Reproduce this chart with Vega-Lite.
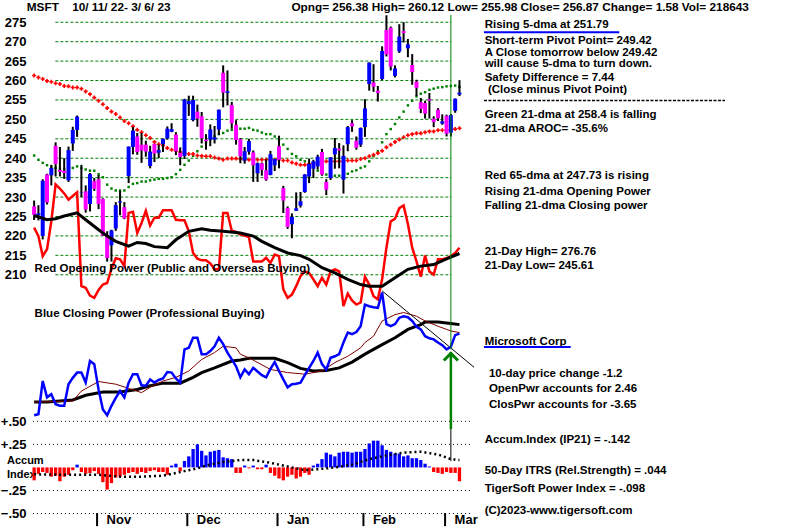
{
"$schema": "https://vega.github.io/schema/vega-lite/v6.json",
"width": 800, "height": 528,
"autosize": {"type": "fit", "contains": "padding"},
"padding": 0,
"background": "white",
"config": {"view": {"stroke": null}},
"resolve": {"scale": {"y": "independent"}},
"datasets": {
"px": [
{"d":0,"o":227.6,"h":229.1,"l":224.1,"c":225.4,"ma21":240.7,"ma65":261.3},
{"d":1,"o":225.4,"h":227.9,"l":224.0,"c":225.8,"ma21":239.6,"ma65":260.8},
{"d":2,"o":220.0,"h":234.6,"l":219.1,"c":234.2,"ma21":238.8,"ma65":260.4},
{"d":3,"o":235.8,"h":236.0,"l":228.1,"c":228.6,"ma21":238.2,"ma65":259.9},
{"d":4,"o":235.6,"h":238.3,"l":233.0,"c":237.5,"ma21":237.8,"ma65":259.7},
{"d":5,"o":243.2,"h":244.1,"l":235.3,"c":238.5,"ma21":237.5,"ma65":259.3},
{"d":6,"o":237.0,"h":242.9,"l":235.3,"c":236.5,"ma21":237.3,"ma65":259.1},
{"d":7,"o":236.8,"h":240.0,"l":234.7,"c":236.2,"ma21":237.2,"ma65":258.6},
{"d":8,"o":234.3,"h":243.0,"l":233.9,"c":242.1,"ma21":237.3,"ma65":258.5},
{"d":9,"o":243.8,"h":248.1,"l":241.9,"c":247.3,"ma21":237.5,"ma65":258.2},
{"d":10,"o":247.3,"h":251.0,"l":245.5,"c":250.7,"ma21":237.9,"ma65":258.2},
{"d":11,"o":231.2,"h":238.3,"l":230.0,"c":231.3,"ma21":237.5,"ma65":257.9},
{"d":12,"o":231.5,"h":233.0,"l":226.0,"c":226.8,"ma21":237.1,"ma65":257.2},
{"d":13,"o":228.2,"h":236.2,"l":226.3,"c":235.9,"ma21":236.8,"ma65":256.5},
{"d":14,"o":234.1,"h":234.9,"l":231.6,"c":232.1,"ma21":236.8,"ma65":255.6},
{"d":15,"o":234.6,"h":235.7,"l":226.9,"c":228.2,"ma21":235.9,"ma65":254.8},
{"d":16,"o":229.5,"h":229.7,"l":220.0,"c":220.1,"ma21":235.1,"ma65":253.9},
{"d":17,"o":220.1,"h":221.2,"l":213.4,"c":214.3,"ma21":233.2,"ma65":252.9},
{"d":18,"o":217.6,"h":221.6,"l":213.4,"c":221.4,"ma21":232.2,"ma65":252.0},
{"d":19,"o":221.9,"h":228.7,"l":221.3,"c":227.9,"ma21":231.7,"ma65":251.4},
{"d":20,"o":228.6,"h":231.6,"l":225.3,"c":228.9,"ma21":231.7,"ma65":250.5},
{"d":21,"o":227.4,"h":228.7,"l":224.3,"c":224.5,"ma21":231.7,"ma65":249.6},
{"d":22,"o":235.4,"h":243.0,"l":233.6,"c":243.0,"ma21":232.6,"ma65":249.0},
{"d":23,"o":242.9,"h":248.0,"l":241.0,"c":247.1,"ma21":233.4,"ma65":248.2},
{"d":24,"o":245.6,"h":246.5,"l":240.9,"c":241.6,"ma21":233.6,"ma65":247.3},
{"d":25,"o":243.5,"h":246.5,"l":238.8,"c":242.0,"ma21":234.0,"ma65":246.7},
{"d":26,"o":243.5,"h":244.5,"l":240.4,"c":241.7,"ma21":234.0,"ma65":245.9},
{"d":27,"o":238.0,"h":243.2,"l":237.4,"c":241.7,"ma21":234.3,"ma65":245.2},
{"d":28,"o":243.7,"h":243.7,"l":239.0,"c":241.2,"ma21":234.5,"ma65":244.2},
{"d":29,"o":241.4,"h":243.5,"l":240.0,"c":242.1,"ma21":234.7,"ma65":243.6},
{"d":30,"o":243.6,"h":245.1,"l":241.6,"c":245.0,"ma21":234.7,"ma65":243.3},
{"d":31,"o":245.1,"h":248.2,"l":244.8,"c":247.6,"ma21":234.9,"ma65":242.6},
{"d":32,"o":246.8,"h":249.0,"l":246.7,"c":247.5,"ma21":235.1,"ma65":242.2},
{"d":33,"o":246.1,"h":246.7,"l":240.8,"c":241.8,"ma21":235.9,"ma65":241.9},
{"d":34,"o":241.4,"h":242.8,"l":238.2,"c":240.3,"ma21":237.0,"ma65":241.6},
{"d":35,"o":240.6,"h":255.3,"l":239.8,"c":255.1,"ma21":238.3,"ma65":241.3},
{"d":36,"o":253.9,"h":256.1,"l":250.9,"c":254.7,"ma21":239.4,"ma65":241.1},
{"d":37,"o":249.8,"h":256.1,"l":249.5,"c":255.0,"ma21":240.6,"ma65":241.1},
{"d":38,"o":252.0,"h":253.8,"l":248.1,"c":250.2,"ma21":241.8,"ma65":240.7},
{"d":39,"o":250.8,"h":251.9,"l":243.8,"c":245.1,"ma21":243.0,"ma65":240.6},
{"d":40,"o":244.8,"h":246.2,"l":242.2,"c":244.4,"ma21":244.0,"ma65":240.5},
{"d":41,"o":244.8,"h":248.7,"l":243.1,"c":247.4,"ma21":244.9,"ma65":240.5},
{"d":42,"o":244.8,"h":248.3,"l":243.8,"c":245.4,"ma21":245.6,"ma65":240.2},
{"d":43,"o":247.4,"h":252.5,"l":246.0,"c":252.5,"ma21":246.2,"ma65":239.9},
{"d":44,"o":262.0,"h":263.9,"l":253.1,"c":256.9,"ma21":246.5,"ma65":239.6},
{"d":45,"o":256.8,"h":262.6,"l":253.6,"c":257.2,"ma21":247.1,"ma65":239.9},
{"d":46,"o":253.7,"h":254.5,"l":247.6,"c":249.0,"ma21":247.3,"ma65":239.9},
{"d":47,"o":248.6,"h":249.8,"l":243.5,"c":244.7,"ma21":247.5,"ma65":239.9},
{"d":48,"o":244.9,"h":245.2,"l":238.7,"c":240.5,"ma21":247.6,"ma65":239.8},
{"d":49,"o":239.4,"h":242.9,"l":238.6,"c":241.8,"ma21":247.6,"ma65":239.6},
{"d":50,"o":241.7,"h":245.0,"l":240.9,"c":244.4,"ma21":247.8,"ma65":239.6},
{"d":51,"o":241.5,"h":242.0,"l":233.9,"c":238.2,"ma21":247.3,"ma65":239.6},
{"d":52,"o":236.1,"h":238.9,"l":233.9,"c":238.7,"ma21":247.1,"ma65":239.6},
{"d":53,"o":238.7,"h":238.9,"l":235.5,"c":237.0,"ma21":246.6,"ma65":239.6},
{"d":54,"o":236.9,"h":239.7,"l":234.2,"c":234.5,"ma21":246.2,"ma65":239.6},
{"d":55,"o":235.7,"h":241.9,"l":235.6,"c":241.0,"ma21":246.2,"ma65":239.6},
{"d":56,"o":238.2,"h":239.9,"l":236.7,"c":239.8,"ma21":245.6,"ma65":239.6},
{"d":57,"o":243.1,"h":245.8,"l":237.4,"c":239.6,"ma21":244.8,"ma65":239.6},
{"d":58,"o":232.3,"h":232.9,"l":225.9,"c":229.1,"ma21":243.5,"ma65":239.4},
{"d":59,"o":227.2,"h":227.6,"l":221.8,"c":222.3,"ma21":242.4,"ma65":239.4},
{"d":60,"o":223.0,"h":225.8,"l":219.4,"c":224.9,"ma21":241.1,"ma65":238.9},
{"d":61,"o":226.5,"h":231.2,"l":226.4,"c":227.1,"ma21":240.5,"ma65":238.6},
{"d":62,"o":227.8,"h":231.3,"l":227.3,"c":228.9,"ma21":239.6,"ma65":238.3},
{"d":63,"o":231.3,"h":235.9,"l":231.1,"c":235.8,"ma21":239.2,"ma65":238.3},
{"d":64,"o":235.3,"h":239.9,"l":233.6,"c":238.5,"ma21":238.5,"ma65":238.5},
{"d":65,"o":237.3,"h":239.6,"l":234.9,"c":239.2,"ma21":237.8,"ma65":238.7},
{"d":66,"o":237.9,"h":240.9,"l":237.1,"c":240.4,"ma21":236.8,"ma65":238.9},
{"d":67,"o":241.6,"h":242.4,"l":235.5,"c":235.8,"ma21":236.2,"ma65":239.1},
{"d":68,"o":233.9,"h":234.6,"l":230.5,"c":231.9,"ma21":235.8,"ma65":239.2},
{"d":69,"o":234.9,"h":240.3,"l":234.4,"c":240.2,"ma21":235.6,"ma65":239.2},
{"d":70,"o":241.0,"h":245.2,"l":237.3,"c":242.6,"ma21":235.5,"ma65":239.2},
{"d":71,"o":242.5,"h":243.9,"l":237.4,"c":242.0,"ma21":235.5,"ma65":239.2},
{"d":72,"o":234.5,"h":243.3,"l":230.9,"c":240.6,"ma21":235.7,"ma65":239.3},
{"d":73,"o":243.6,"h":248.3,"l":241.8,"c":248.0,"ma21":236.0,"ma65":239.4},
{"d":74,"o":249.0,"h":249.8,"l":246.8,"c":248.2,"ma21":236.6,"ma65":239.4},
{"d":75,"o":244.5,"h":245.6,"l":242.2,"c":242.7,"ma21":236.9,"ma65":239.4},
{"d":76,"o":243.5,"h":247.9,"l":242.9,"c":247.8,"ma21":237.5,"ma65":239.8},
{"d":77,"o":248.0,"h":255.2,"l":245.5,"c":252.8,"ma21":237.9,"ma65":240.0},
{"d":78,"o":259.1,"h":264.7,"l":257.4,"c":264.6,"ma21":239.2,"ma65":240.5},
{"d":79,"o":259.5,"h":264.2,"l":257.1,"c":258.4,"ma21":240.5,"ma65":240.9},
{"d":80,"o":257.4,"h":258.6,"l":254.6,"c":256.8,"ma21":241.8,"ma65":241.3},
{"d":81,"o":260.4,"h":268.8,"l":260.1,"c":267.6,"ma21":244.1,"ma65":241.9},
{"d":82,"o":273.0,"h":276.8,"l":266.2,"c":266.7,"ma21":246.2,"ma65":242.8},
{"d":83,"o":273.6,"h":273.9,"l":262.6,"c":263.6,"ma21":247.5,"ma65":243.5},
{"d":84,"o":261.2,"h":263.9,"l":260.8,"c":263.1,"ma21":248.8,"ma65":244.2},
{"d":85,"o":267.5,"h":274.5,"l":267.1,"c":271.3,"ma21":250.5,"ma65":244.8},
{"d":86,"o":272.7,"h":275.0,"l":269.8,"c":272.2,"ma21":252.0,"ma65":245.4},
{"d":87,"o":268.3,"h":270.7,"l":266.0,"c":269.3,"ma21":253.6,"ma65":245.9},
{"d":88,"o":264.0,"h":266.8,"l":258.9,"c":262.2,"ma21":254.8,"ma65":246.2},
{"d":89,"o":259.7,"h":260.2,"l":256.0,"c":258.1,"ma21":255.9,"ma65":246.4},
{"d":90,"o":254.4,"h":255.5,"l":251.6,"c":252.7,"ma21":256.6,"ma65":246.4},
{"d":91,"o":254.2,"h":254.8,"l":250.2,"c":251.5,"ma21":257.0,"ma65":246.7},
{"d":92,"o":255.2,"h":256.8,"l":250.2,"c":254.8,"ma21":257.6,"ma65":246.9},
{"d":93,"o":250.2,"h":250.8,"l":248.0,"c":249.3,"ma21":257.9,"ma65":246.9},
{"d":94,"o":252.5,"h":252.9,"l":249.6,"c":250.3,"ma21":258.2,"ma65":247.2},
{"d":95,"o":248.9,"h":251.3,"l":248.6,"c":249.5,"ma21":258.3,"ma65":247.2},
{"d":96,"o":250.9,"h":251.2,"l":245.6,"c":246.3,"ma21":258.5,"ma65":247.3},
{"d":97,"o":246.6,"h":251.4,"l":245.6,"c":251.1,"ma21":258.6,"ma65":247.4},
{"d":98,"o":252.2,"h":255.4,"l":251.7,"c":255.3,"ma21":258.7,"ma65":247.5},
{"d":99,"o":256.4,"h":260.1,"l":256.0,"c":256.9,"ma21":258.4,"ma65":247.7}
],
"op": [
{"d":0,"v":56.8},{"d":1,"v":55.2},{"d":2,"v":51.4},{"d":3,"v":52.7},{"d":4,"v":58.0},{"d":5,"v":65.0},{"d":6,"v":64.2},{"d":7,"v":63.3},{"d":8,"v":62.1},{"d":9,"v":62.8},
{"d":10,"v":63.5},{"d":11,"v":45.7},{"d":12,"v":45.4},{"d":13,"v":43.9},{"d":14,"v":43.5},{"d":15,"v":45.0},{"d":16,"v":46.0},{"d":17,"v":46.3},{"d":18,"v":49.0},{"d":19,"v":51.0},
{"d":20,"v":50.8},{"d":21,"v":49.5},{"d":22,"v":59.6},{"d":23,"v":59.8},{"d":24,"v":55.8},{"d":25,"v":57.7},{"d":26,"v":60.0},{"d":27,"v":57.2},{"d":28,"v":58.7},{"d":29,"v":58.7},
{"d":30,"v":60.1},{"d":31,"v":60.1},{"d":32,"v":60.1},{"d":33,"v":58.3},{"d":34,"v":58.2},{"d":35,"v":58.2},{"d":36,"v":56.1},{"d":37,"v":52.0},{"d":38,"v":50.9},{"d":39,"v":50.6},
{"d":40,"v":50.6},{"d":41,"v":50.0},{"d":42,"v":48.9},{"d":43,"v":48.9},{"d":44,"v":59.6},{"d":45,"v":59.6},{"d":46,"v":56.2},{"d":47,"v":56.0},{"d":48,"v":55.5},{"d":49,"v":55.3},
{"d":50,"v":55.0},{"d":51,"v":50.4},{"d":52,"v":50.4},{"d":53,"v":50.4},{"d":54,"v":51.1},{"d":55,"v":50.1},{"d":56,"v":51.7},{"d":57,"v":51.4},{"d":58,"v":45.1},{"d":59,"v":43.5},
{"d":60,"v":44.1},{"d":61,"v":45.7},{"d":62,"v":47.6},{"d":63,"v":48.5},{"d":64,"v":48.2},{"d":65,"v":47.0},{"d":66,"v":45.7},{"d":67,"v":47.3},{"d":68,"v":46.0},{"d":69,"v":48.5},
{"d":70,"v":48.9},{"d":71,"v":48.5},{"d":72,"v":41.9},{"d":73,"v":44.3},{"d":74,"v":43.0},{"d":75,"v":42.2},{"d":76,"v":42.6},{"d":77,"v":47.5},{"d":78,"v":46.0},{"d":79,"v":43.8},
{"d":80,"v":43.2},{"d":81,"v":47.0},{"d":82,"v":53.0},{"d":83,"v":58.0},{"d":84,"v":58.5},{"d":85,"v":60.5},{"d":86,"v":61.0},{"d":87,"v":57.5},{"d":88,"v":53.0},{"d":89,"v":50.4},
{"d":90,"v":47.5},{"d":91,"v":51.5},{"d":92,"v":48.5},{"d":93,"v":47.9},{"d":94,"v":50.8},{"d":95,"v":50.8},{"d":96,"v":51.0},{"d":97,"v":51.4},{"d":98,"v":52.0},{"d":99,"v":53.0}
],
"opma": [
{"d":0,"v":59.1},{"d":3,"v":58.3},{"d":5,"v":58.5},{"d":7,"v":59.0},{"d":10,"v":59.6},{"d":12,"v":58.3},{"d":15,"v":56.4},{"d":17,"v":55.2},{"d":19,"v":54.2},{"d":22,"v":53.3},
{"d":24,"v":54.0},{"d":26,"v":53.8},{"d":28,"v":53.2},{"d":31,"v":53.0},{"d":33,"v":54.5},{"d":36,"v":56.1},{"d":39,"v":56.6},{"d":41,"v":56.3},{"d":44,"v":56.1},{"d":47,"v":55.9},
{"d":48,"v":55.8},{"d":51,"v":55.2},{"d":53,"v":54.2},{"d":56,"v":53.0},{"d":59,"v":52.0},{"d":62,"v":51.5},{"d":64,"v":50.8},{"d":67,"v":49.2},{"d":70,"v":48.2},{"d":73,"v":47.0},
{"d":76,"v":46.0},{"d":78,"v":45.7},{"d":81,"v":45.7},{"d":84,"v":47.3},{"d":87,"v":48.9},{"d":90,"v":49.5},{"d":93,"v":49.8},{"d":96,"v":50.9},{"d":99,"v":51.9}
],
"cp": [
{"d":0,"v":21.2},{"d":1,"v":21.4},{"d":2,"v":27.7},{"d":3,"v":24.6},{"d":4,"v":25.2},{"d":5,"v":23.3},{"d":6,"v":23.0},{"d":7,"v":23.0},{"d":8,"v":27.1},{"d":9,"v":28.3},
{"d":10,"v":29.3},{"d":11,"v":29.3},{"d":12,"v":27.4},{"d":13,"v":31.5},{"d":14,"v":30.9},{"d":15,"v":26.1},{"d":16,"v":22.3},{"d":17,"v":21.2},{"d":18,"v":23.0},{"d":19,"v":24.5},
{"d":20,"v":25.8},{"d":21,"v":24.6},{"d":22,"v":27.4},{"d":23,"v":29.0},{"d":24,"v":29.0},{"d":25,"v":26.9},{"d":26,"v":26.8},{"d":27,"v":28.0},{"d":28,"v":27.4},{"d":29,"v":27.9},
{"d":30,"v":28.2},{"d":31,"v":29.4},{"d":32,"v":29.3},{"d":33,"v":28.2},{"d":34,"v":27.4},{"d":35,"v":33.7},{"d":36,"v":34.0},{"d":37,"v":35.9},{"d":38,"v":35.9},{"d":39,"v":32.8},
{"d":40,"v":32.8},{"d":41,"v":33.4},{"d":42,"v":34.3},{"d":43,"v":35.9},{"d":44,"v":34.7},{"d":45,"v":33.1},{"d":46,"v":31.8},{"d":47,"v":30.5},{"d":48,"v":28.4},{"d":49,"v":29.9},
{"d":50,"v":29.0},{"d":51,"v":30.2},{"d":52,"v":29.5},{"d":53,"v":28.8},{"d":54,"v":28.4},{"d":55,"v":30.0},{"d":56,"v":31.3},{"d":57,"v":29.6},{"d":58,"v":28.0},{"d":59,"v":26.5},
{"d":60,"v":27.1},{"d":61,"v":27.2},{"d":62,"v":27.4},{"d":63,"v":28.8},{"d":64,"v":30.2},{"d":65,"v":31.5},{"d":66,"v":33.1},{"d":67,"v":30.9},{"d":68,"v":29.9},{"d":69,"v":32.1},
{"d":70,"v":32.4},{"d":71,"v":32.8},{"d":72,"v":35.0},{"d":73,"v":36.9},{"d":74,"v":36.6},{"d":75,"v":37.0},{"d":76,"v":38.1},{"d":77,"v":42.2},{"d":78,"v":41.9},{"d":79,"v":41.7},
{"d":80,"v":41.6},{"d":81,"v":44.5},{"d":82,"v":38.5},{"d":83,"v":38.1},{"d":84,"v":38.5},{"d":85,"v":39.7},{"d":86,"v":40.0},{"d":87,"v":39.8},{"d":88,"v":39.1},{"d":89,"v":38.0},
{"d":90,"v":37.5},{"d":91,"v":36.2},{"d":92,"v":35.8},{"d":93,"v":35.6},{"d":94,"v":35.0},{"d":95,"v":34.5},{"d":96,"v":33.7},{"d":97,"v":34.2},{"d":98,"v":36.4},{"d":99,"v":36.7}
],
"cpbrown": [
{"d":0,"v":23.7},{"d":9,"v":23.9},{"d":11,"v":25.8},{"d":15,"v":27.6},{"d":19,"v":27.1},{"d":22,"v":26.3},{"d":25,"v":25.5},{"d":27,"v":26.5},{"d":30,"v":27.7},{"d":33,"v":28.4},
{"d":36,"v":29.6},{"d":39,"v":31.8},{"d":42,"v":33.1},{"d":44,"v":34.3},{"d":47,"v":34.0},{"d":48,"v":32.8},{"d":50,"v":32.1},{"d":55,"v":29.9},{"d":59,"v":29.3},{"d":63,"v":29.0},
{"d":67,"v":29.6},{"d":70,"v":31.2},{"d":73,"v":32.4},{"d":76,"v":34.0},{"d":77,"v":35.0},{"d":79,"v":36.2},{"d":81,"v":39.1},{"d":84,"v":40.3},{"d":86,"v":40.7},{"d":89,"v":40.0},
{"d":91,"v":39.1},{"d":94,"v":38.1},{"d":97,"v":37.2},{"d":99,"v":36.9}
],
"cpblack": [
{"d":0,"v":23.7},{"d":3,"v":23.7},{"d":9,"v":24.1},{"d":12,"v":25.0},{"d":16,"v":25.6},{"d":20,"v":25.6},{"d":24,"v":26.1},{"d":27,"v":26.8},{"d":30,"v":27.3},{"d":34,"v":27.3},
{"d":37,"v":28.4},{"d":39,"v":29.3},{"d":42,"v":30.2},{"d":46,"v":31.5},{"d":48,"v":31.7},{"d":50,"v":32.0},{"d":56,"v":32.0},{"d":59,"v":31.2},{"d":62,"v":30.1},{"d":65,"v":29.6},
{"d":68,"v":29.7},{"d":71,"v":30.2},{"d":74,"v":31.3},{"d":77,"v":32.8},{"d":81,"v":34.6},{"d":84,"v":35.9},{"d":87,"v":37.5},{"d":90,"v":38.4},{"d":91,"v":38.9},{"d":94,"v":38.9},
{"d":97,"v":38.6},{"d":99,"v":38.4}
],
"trend": [{"d":81,"v":44.8},{"d":102.4,"v":30.3}],
"ai": [
{"d":0,"v":-0.14},{"d":1,"v":-0.07},{"d":2,"v":-0.05},{"d":3,"v":-0.06},{"d":4,"v":-0.10},{"d":5,"v":-0.09},{"d":6,"v":-0.15},{"d":7,"v":-0.10},{"d":8,"v":-0.08},{"d":9,"v":-0.03},
{"d":10,"v":0.03},{"d":11,"v":-0.05},{"d":12,"v":-0.07},{"d":13,"v":-0.06},{"d":14,"v":-0.04},{"d":15,"v":-0.07},{"d":16,"v":-0.16},{"d":17,"v":-0.24},{"d":18,"v":-0.17},{"d":19,"v":-0.11},
{"d":20,"v":-0.10},{"d":21,"v":-0.08},{"d":22,"v":-0.06},{"d":23,"v":-0.05},{"d":24,"v":-0.07},{"d":25,"v":-0.05},{"d":26,"v":-0.06},{"d":27,"v":-0.04},{"d":28,"v":-0.03},{"d":29,"v":-0.05},
{"d":30,"v":-0.05},{"d":31,"v":-0.08},{"d":32,"v":0.02},{"d":33,"v":0.04},{"d":34,"v":-0.04},{"d":35,"v":0.07},{"d":36,"v":0.12},{"d":37,"v":0.20},{"d":38,"v":0.25},{"d":39,"v":0.18},
{"d":40,"v":0.13},{"d":41,"v":0.17},{"d":42,"v":0.18},{"d":43,"v":0.19},{"d":44,"v":0.11},{"d":45,"v":0.10},{"d":46,"v":0.09},{"d":47,"v":-0.06},{"d":48,"v":-0.06},{"d":49,"v":0.02},
{"d":50,"v":-0.01},{"d":51,"v":0.02},{"d":52,"v":-0.02},{"d":53,"v":-0.02},{"d":54,"v":0.03},{"d":55,"v":-0.06},{"d":56,"v":-0.09},{"d":57,"v":-0.12},{"d":58,"v":-0.14},{"d":59,"v":-0.10},
{"d":60,"v":-0.08},{"d":61,"v":-0.12},{"d":62,"v":-0.10},{"d":63,"v":-0.06},{"d":64,"v":-0.08},{"d":65,"v":0.02},{"d":66,"v":0.04},{"d":67,"v":0.09},{"d":68,"v":0.16},{"d":69,"v":0.14},
{"d":70,"v":0.12},{"d":71,"v":0.16},{"d":72,"v":0.17},{"d":73,"v":0.17},{"d":74,"v":0.16},{"d":75,"v":0.17},{"d":76,"v":0.17},{"d":77,"v":0.20},{"d":78,"v":0.26},{"d":79,"v":0.29},
{"d":80,"v":0.29},{"d":81,"v":0.24},{"d":82,"v":0.19},{"d":83,"v":0.17},{"d":84,"v":0.15},{"d":85,"v":0.15},{"d":86,"v":0.12},{"d":87,"v":0.13},{"d":88,"v":0.10},{"d":89,"v":0.10},
{"d":90,"v":0.08},{"d":91,"v":0.04},{"d":92,"v":0.01},{"d":93,"v":-0.05},{"d":94,"v":-0.06},{"d":95,"v":-0.07},{"d":96,"v":-0.05},{"d":97,"v":-0.06},{"d":98,"v":-0.06},{"d":99,"v":-0.15}
],
"aima": [
{"d":0,"v":-0.075},{"d":8,"v":-0.08},{"d":15,"v":-0.08},{"d":20,"v":-0.10},{"d":25,"v":-0.10},{"d":30,"v":-0.09},{"d":33,"v":-0.06},{"d":36,"v":-0.03},{"d":38,"v":-0.01},{"d":40,"v":0.02},
{"d":44,"v":0.06},{"d":48,"v":0.08},{"d":51,"v":0.08},{"d":55,"v":0.05},{"d":60,"v":0.0},{"d":63,"v":-0.03},{"d":66,"v":-0.02},{"d":70,"v":0.0},{"d":74,"v":0.03},{"d":78,"v":0.09},
{"d":82,"v":0.13},{"d":86,"v":0.16},{"d":90,"v":0.17},{"d":94,"v":0.14},{"d":97,"v":0.09},{"d":99,"v":0.08}
]
},
"layer": [
{
"data": {"values": [{"p":210},{"p":215},{"p":220},{"p":225},{"p":230},{"p":235},{"p":240},{"p":245},{"p":250},{"p":255},{"p":260},{"p":265},{"p":270},{"p":275}]},
"mark": {"type": "rule", "color": "#008000", "strokeDash": [3, 2], "strokeWidth": 1},
"encoding": {
"x": {"datum": 4.94, "type": "quantitative", "scale": {"domain": [-6.78, 177.1], "nice": false, "zero": false}, "axis": null},
"x2": {"datum": 97.1},
"y": {"field": "p", "type": "quantitative", "scale": {"domain": [145.07, 280.73], "nice": false, "zero": false},
"axis": {"orient": "left", "offset": -26, "values": [210,215,220,225,230,235,240,245,250,255,260,265,270,275], "domain": false, "ticks": false, "grid": false, "labelPadding": 0, "labelFont": "Liberation Sans", "labelFontWeight": "bold", "labelFontSize": 13, "labelColor": "black", "title": null, "labelFlush": false, "labelOverlap": false}}
}
},
{
"data": {"values": [{"a":0.5},{"a":0.25},{"a":-0.25},{"a":-0.5}]},
"mark": {"type": "rule", "color": "black", "strokeDash": [1, 3], "strokeWidth": 1},
"encoding": {
"x": {"datum": -0.28, "type": "quantitative", "scale": {"domain": [-6.78, 177.1], "nice": false, "zero": false}, "axis": null},
"x2": {"datum": 101.6},
"y": {"field": "a", "type": "quantitative", "scale": {"domain": [-0.646, 5.068], "nice": false, "zero": false},
"axis": {"orient": "left", "offset": -26, "values": [0.5, 0.25, -0.25, -0.5], "labelExpr": "(datum.value > 0 ? '+' : '') + replace(format(datum.value, '.2f'), '0.', '.')", "domain": false, "ticks": false, "grid": false, "labelPadding": 0, "labelFont": "Liberation Sans", "labelFontWeight": "bold", "labelFontSize": 13, "labelColor": "black", "title": null, "labelFlush": false, "labelOverlap": false}}
}
},
{
"data": {"name": "px"},
"mark": {"type": "square", "size": 6, "color": "#008000", "filled": true, "opacity": 1},
"encoding": {
"x": {"field": "d", "type": "quantitative", "scale": {"domain": [-6.78, 177.1], "nice": false, "zero": false}, "axis": null},
"y": {"field": "ma21", "type": "quantitative", "scale": {"domain": [145.07, 280.73], "nice": false, "zero": false}, "axis": null}
}
},
{
"data": {"name": "px"},
"mark": {"type": "point", "shape": "cross", "size": 16, "color": "#ff0000", "filled": true, "opacity": 1},
"encoding": {
"x": {"field": "d", "type": "quantitative", "scale": {"domain": [-6.78, 177.1], "nice": false, "zero": false}, "axis": null},
"y": {"field": "ma65", "type": "quantitative", "scale": {"domain": [145.07, 280.73], "nice": false, "zero": false}, "axis": null}
}
},
{
"data": {"name": "px"},
"mark": {"type": "rule", "color": "black", "strokeWidth": 2},
"encoding": {
"x": {"field": "d", "type": "quantitative", "scale": {"domain": [-6.78, 177.1], "nice": false, "zero": false}, "axis": null},
"y": {"field": "l", "type": "quantitative", "scale": {"domain": [145.07, 280.73], "nice": false, "zero": false}, "axis": null},
"y2": {"field": "h"}
}
},
{
"data": {"name": "px"},
"mark": {"type": "bar", "width": 4},
"encoding": {
"x": {"field": "d", "type": "quantitative", "scale": {"domain": [-6.78, 177.1], "nice": false, "zero": false}, "axis": null},
"y": {"field": "o", "type": "quantitative", "scale": {"domain": [145.07, 280.73], "nice": false, "zero": false}, "axis": null},
"y2": {"field": "c"},
"color": {"condition": {"test": "datum.c >= datum.o", "value": "#0000ff"}, "value": "#ff00ff"}
}
},
{
"data": {"name": "op"},
"mark": {"type": "line", "color": "#ff0000", "strokeWidth": 2.5},
"encoding": {
"x": {"field": "d", "type": "quantitative", "scale": {"domain": [-6.78, 177.1], "nice": false, "zero": false}, "axis": null},
"y": {"field": "v", "type": "quantitative", "scale": {"domain": [0, 100], "nice": false, "zero": false}, "axis": null}
}
},
{
"data": {"name": "opma"},
"mark": {"type": "line", "color": "black", "strokeWidth": 3},
"encoding": {
"x": {"field": "d", "type": "quantitative", "scale": {"domain": [-6.78, 177.1], "nice": false, "zero": false}, "axis": null},
"y": {"field": "v", "type": "quantitative", "scale": {"domain": [0, 100], "nice": false, "zero": false}, "axis": null}
}
},
{
"data": {"name": "cpblack"},
"mark": {"type": "line", "color": "black", "strokeWidth": 3},
"encoding": {
"x": {"field": "d", "type": "quantitative", "scale": {"domain": [-6.78, 177.1], "nice": false, "zero": false}, "axis": null},
"y": {"field": "v", "type": "quantitative", "scale": {"domain": [0, 100], "nice": false, "zero": false}, "axis": null}
}
},
{
"data": {"name": "cpbrown"},
"mark": {"type": "line", "color": "#800000", "strokeWidth": 1},
"encoding": {
"x": {"field": "d", "type": "quantitative", "scale": {"domain": [-6.78, 177.1], "nice": false, "zero": false}, "axis": null},
"y": {"field": "v", "type": "quantitative", "scale": {"domain": [0, 100], "nice": false, "zero": false}, "axis": null}
}
},
{
"data": {"name": "trend"},
"mark": {"type": "line", "color": "black", "strokeWidth": 1},
"encoding": {
"x": {"field": "d", "type": "quantitative", "scale": {"domain": [-6.78, 177.1], "nice": false, "zero": false}, "axis": null},
"y": {"field": "v", "type": "quantitative", "scale": {"domain": [0, 100], "nice": false, "zero": false}, "axis": null}
}
},
{
"data": {"name": "cp"},
"mark": {"type": "line", "color": "#0000ff", "strokeWidth": 2.5},
"encoding": {
"x": {"field": "d", "type": "quantitative", "scale": {"domain": [-6.78, 177.1], "nice": false, "zero": false}, "axis": null},
"y": {"field": "v", "type": "quantitative", "scale": {"domain": [0, 100], "nice": false, "zero": false}, "axis": null}
}
},
{
"data": {"values": [{"t": "Accum", "d": -6.32, "y": 161.95}, {"t": "Index", "d": -6.32, "y": 158.5}]},
"mark": {"type": "text", "align": "left", "baseline": "middle", "font": "Liberation Sans", "fontWeight": "bold", "fontSize": 11, "color": "black"},
"encoding": {
"x": {"field": "d", "type": "quantitative", "scale": {"domain": [-6.78, 177.1], "nice": false, "zero": false}, "axis": null},
"y": {"field": "y", "type": "quantitative", "scale": {"domain": [145.07, 280.73], "nice": false, "zero": false}, "axis": null},
"text": {"field": "t"}
}
},
{
"data": {"name": "ai"},
"mark": {"type": "bar", "width": 3.3},
"encoding": {
"x": {"field": "d", "type": "quantitative", "scale": {"domain": [-6.78, 177.1], "nice": false, "zero": false}, "axis": null},
"y": {"field": "v", "type": "quantitative", "scale": {"domain": [-0.646, 5.068], "nice": false, "zero": false}, "axis": null},
"y2": {"datum": 0},
"color": {"condition": {"test": "datum.v >= 0", "value": "#0000ff"}, "value": "#ff0000"}
}
},
{
"data": {"name": "aima"},
"mark": {"type": "line", "color": "black", "strokeWidth": 2.5, "strokeDash": [2, 3]},
"encoding": {
"x": {"field": "d", "type": "quantitative", "scale": {"domain": [-6.78, 177.1], "nice": false, "zero": false}, "axis": null},
"y": {"field": "v", "type": "quantitative", "scale": {"domain": [-0.646, 5.068], "nice": false, "zero": false}, "axis": null}
}
},
{
"data": {"values": [{"d": 97, "y1": 97.16, "y2": 33.7}]},
"mark": {"type": "rule", "color": "#008000", "strokeWidth": 1},
"encoding": {
"x": {"field": "d", "type": "quantitative", "scale": {"domain": [-6.78, 177.1], "nice": false, "zero": false}, "axis": null},
"y": {"field": "y1", "type": "quantitative", "scale": {"domain": [0, 100], "nice": false, "zero": false}, "axis": null},
"y2": {"field": "y2"}
}
},
{
"data": {"values": [{"d": 97, "y1": 33.2, "y2": 18.56}]},
"mark": {"type": "rule", "color": "#008000", "strokeWidth": 2.5},
"encoding": {
"x": {"field": "d", "type": "quantitative", "scale": {"domain": [-6.78, 177.1], "nice": false, "zero": false}, "axis": null},
"y": {"field": "y1", "type": "quantitative", "scale": {"domain": [0, 100], "nice": false, "zero": false}, "axis": null},
"y2": {"field": "y2"}
}
},
{
"data": {"values": [{"d": 97, "y1": 18.56, "y2": 12.5}]},
"mark": {"type": "rule", "color": "black", "strokeWidth": 1},
"encoding": {
"x": {"field": "d", "type": "quantitative", "scale": {"domain": [-6.78, 177.1], "nice": false, "zero": false}, "axis": null},
"y": {"field": "y1", "type": "quantitative", "scale": {"domain": [0, 100], "nice": false, "zero": false}, "axis": null},
"y2": {"field": "y2"}
}
},
{
"data": {"values": [{"d": 97, "v": 32.4}]},
"mark": {"type": "point", "shape": "M -1 0.6 L 0 -0.4 L 1 0.6", "filled": false, "size": 200, "strokeWidth": 3, "color": "#008000", "opacity": 1},
"encoding": {
"x": {"field": "d", "type": "quantitative", "scale": {"domain": [-6.78, 177.1], "nice": false, "zero": false}, "axis": null},
"y": {"field": "v", "type": "quantitative", "scale": {"domain": [0, 100], "nice": false, "zero": false}, "axis": null}
}
},
{
"data": {"values": [
{"t": "MSFT", "d": -1.72, "y": 278.93},
{"t": "10/ 11/ 22- 3/ 6/ 23", "d": 8.85, "y": 278.93},
{"t": "Opng= 256.38 High= 260.12 Low= 255.98 Close= 256.87 Change= 1.58 Vol= 218643", "d": 59.88, "y": 278.93}
]},
"mark": {"type": "text", "align": "left", "baseline": "middle", "font": "Liberation Sans", "fontWeight": "bold", "fontSize": 11.8, "color": "black"},
"encoding": {
"x": {"field": "d", "type": "quantitative", "scale": {"domain": [-6.78, 177.1], "nice": false, "zero": false}, "axis": null},
"y": {"field": "y", "type": "quantitative", "scale": {"domain": [145.07, 280.73], "nice": false, "zero": false}, "axis": null},
"text": {"field": "t"}
}
},
{
"data": {"values": [
{"t": "Red Opening Power (Public and Overseas Buying)", "d": 0.11, "y": 211.61},
{"t": "Blue Closing Power (Professional Buying)", "d": 0.11, "y": 199.8}
]},
"mark": {"type": "text", "align": "left", "baseline": "middle", "font": "Liberation Sans", "fontWeight": "bold", "fontSize": 11.5, "color": "black"},
"encoding": {
"x": {"field": "d", "type": "quantitative", "scale": {"domain": [-6.78, 177.1], "nice": false, "zero": false}, "axis": null},
"y": {"field": "y", "type": "quantitative", "scale": {"domain": [145.07, 280.73], "nice": false, "zero": false}, "axis": null},
"text": {"field": "t"}
}
},
{
"data": {"values": [
{"t": "Rising 5-dma at 251.79", "d": 104.86, "y": 274.31},
{"t": "Short-term Pivot Point= 249.42", "d": 104.86, "y": 270.2},
{"t": "A Close tomorrow below  249.42", "d": 104.86, "y": 267.19},
{"t": "will cause 5-dma to turn down.", "d": 104.86, "y": 264.21},
{"t": "Safety Difference = 7.44", "d": 104.86, "y": 260.61},
{"t": "(Close minus Pivot Point)", "d": 105.62, "y": 257.61},
{"t": "Green 21-dma at  258.4 is falling", "d": 104.86, "y": 251.18},
{"t": "21-dma AROC= -35.6%", "d": 104.86, "y": 247.51},
{"t": "Red 65-dma at  247.73 is rising", "d": 104.86, "y": 235.51},
{"t": "Rising 21-dma Opening Power", "d": 104.86, "y": 231.32},
{"t": "Falling 21-dma Closing power", "d": 104.86, "y": 227.62},
{"t": "21-Day High= 276.76", "d": 104.86, "y": 215.8},
{"t": "21-Day Low= 245.61", "d": 104.86, "y": 212.38},
{"t": "Microsoft Corp", "d": 104.86, "y": 192.78},
{"t": "10-day price change -1.2", "d": 105.85, "y": 184.38},
{"t": "OpenPwr accounts for  2.46", "d": 105.85, "y": 180.52},
{"t": "ClosPwr accounts for -3.65", "d": 105.85, "y": 176.49},
{"t": "Accum.Index (IP21) = -.142", "d": 104.86, "y": 167.5},
{"t": "50-Day ITRS (Rel.Strength) =  .044", "d": 104.86, "y": 159.38},
{"t": "TigerSoft Power Index = -.098", "d": 104.86, "y": 154.83},
{"t": "(C)2023-www.tigersoft.com", "d": 104.86, "y": 149.1}
]},
"mark": {"type": "text", "align": "left", "baseline": "middle", "font": "Liberation Sans", "fontWeight": "bold", "fontSize": 11.5, "color": "black"},
"encoding": {
"x": {"field": "d", "type": "quantitative", "scale": {"domain": [-6.78, 177.1], "nice": false, "zero": false}, "axis": null},
"y": {"field": "y", "type": "quantitative", "scale": {"domain": [145.07, 280.73], "nice": false, "zero": false}, "axis": null},
"text": {"field": "t"}
}
},
{
"data": {"values": [{"d1": 104.7, "d2": 136.2, "y": 272.43}, {"d1": 104.7, "d2": 124.9, "y": 191.39}]},
"mark": {"type": "rule", "color": "#0000ff", "strokeWidth": 2},
"encoding": {
"x": {"field": "d1", "type": "quantitative", "scale": {"domain": [-6.78, 177.1], "nice": false, "zero": false}, "axis": null},
"x2": {"field": "d2"},
"y": {"field": "y", "type": "quantitative", "scale": {"domain": [145.07, 280.73], "nice": false, "zero": false}, "axis": null}
}
},
{
"data": {"values": [{"d1": 104.7, "d2": 160.8, "y": 254.86}]},
"mark": {"type": "rule", "color": "black", "strokeWidth": 1.3, "strokeDash": [3, 1.5]},
"encoding": {
"x": {"field": "d1", "type": "quantitative", "scale": {"domain": [-6.78, 177.1], "nice": false, "zero": false}, "axis": null},
"x2": {"field": "d2"},
"y": {"field": "y", "type": "quantitative", "scale": {"domain": [145.07, 280.73], "nice": false, "zero": false}, "axis": null}
}
},
{
"data": {"values": [{"m": "Nov", "d": 15}, {"m": "Dec", "d": 36}, {"m": "Jan", "d": 57}, {"m": "Feb", "d": 77}, {"m": "Mar", "d": 96}]},
"mark": {"type": "rule", "color": "black", "strokeWidth": 2, "xOffset": -1.5},
"encoding": {
"x": {"field": "d", "type": "quantitative", "scale": {"domain": [-6.78, 177.1], "nice": false, "zero": false}, "axis": null},
"y": {"datum": 148.66, "type": "quantitative", "scale": {"domain": [145.07, 280.73], "nice": false, "zero": false}, "axis": null},
"y2": {"datum": 145.3}
}
},
{
"data": {"values": [{"m": "Nov", "d": 15}, {"m": "Dec", "d": 36}, {"m": "Jan", "d": 57}, {"m": "Feb", "d": 77}, {"m": "Mar", "d": 96}]},
"mark": {"type": "text", "align": "left", "baseline": "middle", "dx": 8, "font": "Liberation Sans", "fontWeight": "bold", "fontSize": 13, "color": "black"},
"encoding": {
"x": {"field": "d", "type": "quantitative", "scale": {"domain": [-6.78, 177.1], "nice": false, "zero": false}, "axis": null},
"y": {"datum": 146.87, "type": "quantitative", "scale": {"domain": [145.07, 280.73], "nice": false, "zero": false}, "axis": null},
"text": {"field": "m"}
}
}
]
}
